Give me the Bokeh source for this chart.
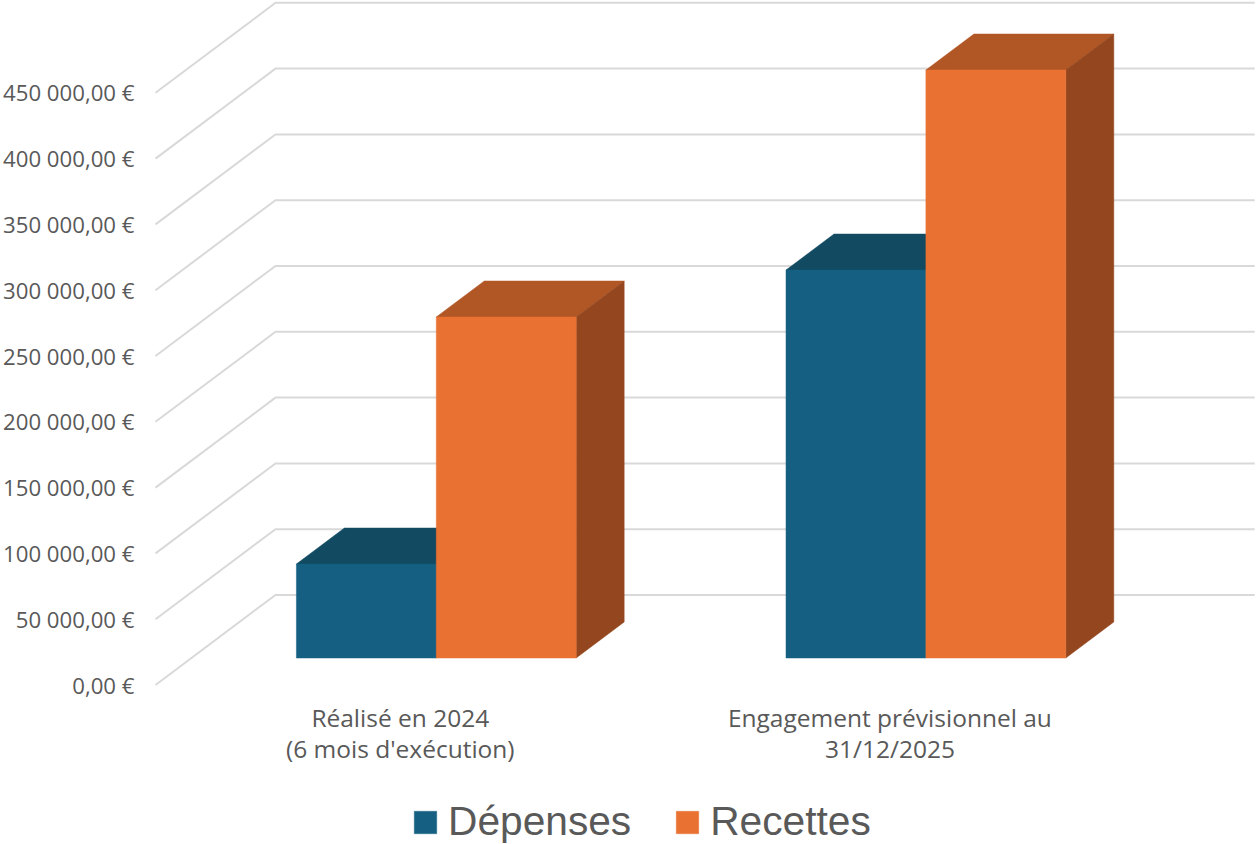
from bokeh.plotting import figure
from bokeh.models import Range1d, FixedTicker, Legend, LegendItem
from bokeh.embed import file_html
from bokeh.resources import INLINE

categories = ["Réalisé en 2024\n(6 mois d'exécution)", "Engagement prévisionnel au\n31/12/2025"]
depenses = [71400, 294800]
recettes = [259100, 446800]
tick_values = [0, 50000, 100000, 150000, 200000, 250000, 300000, 350000, 400000, 450000]
tick_labels = ["0,00 €", "50 000,00 €", "100 000,00 €", "150 000,00 €", "200 000,00 €",
               "250 000,00 €", "300 000,00 €", "350 000,00 €", "400 000,00 €", "450 000,00 €"]

BLUE, BLUE_TOP, BLUE_SIDE = "#156082", "#124A61", "#0F4058"
ORANGE, ORANGE_TOP, ORANGE_SIDE = "#E97132", "#B15625", "#94471F"
GRID = "#D9D9D9"
TEXT = "#595959"
FONT = "Open Sans"
LEGEND_FONT = "Liberation Sans"

W, H = 1256, 844
LEFT = 155                       # page column of the category origin
CAT_PX = 489.6                   # pixels per category
VAL_PX = 65.8 / 50000            # pixels per euro
ZERO_PX = 684.5                  # page row of the value zero
AXIS_PX = 694.5                  # page row above the category labels
DX = 120 / CAT_PX                # depth shift of the chart box, in category units
DY = 90 / VAL_PX                 # depth shift of the chart box, in euros
GAP = 1.5                        # gap width between clusters, in bar widths
BAR_W = 1 / (2 + GAP)
Z0, Z1 = 0.3, 0.7                # front and back of the bars inside the box


def proj(x, v, z):
    return x + z * DX, v + z * DY


p = figure(width=W, height=H, output_backend="svg", toolbar_location=None,
           x_range=Range1d(-LEFT / CAT_PX, (W - LEFT) / CAT_PX),
           y_range=Range1d(-(H - ZERO_PX) / VAL_PX, ZERO_PX / VAL_PX),
           min_border_left=0, min_border_right=0, min_border_top=0, min_border_bottom=0)
p.outline_line_color = None
p.background_fill_color = "white"
p.xgrid.visible = False
p.ygrid.visible = False

# walls
for v in tick_values:
    x0, y0 = proj(0, v, 0)
    x1, y1 = proj(0, v, 1)
    x2, y2 = proj(len(categories), v, 1)
    p.line([x0, x1, x2], [y0, y1, y2], line_color=GRID, line_width=2, line_join="miter")


def bars(values, offset, front, top, side):
    fx, fy, tx, ty, sx, sy = [], [], [], [], [], []
    for i, v in enumerate(values):
        a = i + 0.5 + offset * BAR_W
        b = a + BAR_W
        corners = [(a, 0), (b, 0), (b, v), (a, v)]
        pts = [proj(x, y, Z0) for x, y in corners]
        fx.append([q[0] for q in pts]); fy.append([q[1] for q in pts])
        pts = [proj(a, v, Z0), proj(b, v, Z0), proj(b, v, Z1), proj(a, v, Z1)]
        tx.append([q[0] for q in pts]); ty.append([q[1] for q in pts])
        pts = [proj(b, 0, Z0), proj(b, 0, Z1), proj(b, v, Z1), proj(b, v, Z0)]
        sx.append([q[0] for q in pts]); sy.append([q[1] for q in pts])
    p.patches(tx, ty, fill_color=top, line_color=top, line_width=0.5)
    p.patches(sx, sy, fill_color=side, line_color=side, line_width=0.5)
    return p.patches(fx, fy, fill_color=front, line_color=front, line_width=0.5)


r_dep = bars(depenses, -1, BLUE, BLUE_TOP, BLUE_SIDE)
r_rec = bars(recettes, 0, ORANGE, ORANGE_TOP, ORANGE_SIDE)

# axes
ya = p.yaxis[0]
ya.fixed_location = 0
ya.ticker = FixedTicker(ticks=tick_values)
ya.major_label_overrides = dict(zip(tick_values, tick_labels))
ya.axis_line_color = None
ya.major_tick_line_color = None
ya.minor_tick_line_color = None
ya.major_label_standoff = 15
ya.major_label_text_font = FONT
ya.major_label_text_font_size = "22.2px"
ya.major_label_text_color = TEXT

xa = p.xaxis[0]
xa.fixed_location = -(AXIS_PX - ZERO_PX) / VAL_PX
cat_ticks = [i + 0.5 for i in range(len(categories))]
xa.ticker = FixedTicker(ticks=cat_ticks)
xa.major_label_overrides = dict(zip(cat_ticks, categories))
xa.axis_line_color = None
xa.major_tick_line_color = None
xa.minor_tick_line_color = None
xa.major_label_standoff = 0
xa.major_label_text_font = FONT
xa.major_label_text_font_size = "24.5px"
xa.major_label_text_line_height = 0.93
xa.major_label_text_color = TEXT

legend = Legend(items=[LegendItem(label="Dépenses", renderers=[r_dep]),
                       LegendItem(label="Recettes", renderers=[r_rec])],
                orientation="horizontal", location=(411, -1), border_line_color=None,
                background_fill_alpha=0, margin=0, padding=0, spacing=42,
                glyph_width=28, glyph_height=28, label_standoff=9,
                label_text_font=LEGEND_FONT, label_text_font_size="40.7px", label_text_color=TEXT)
p.add_layout(legend)

open("out.html", "w").write(file_html(p, INLINE))
